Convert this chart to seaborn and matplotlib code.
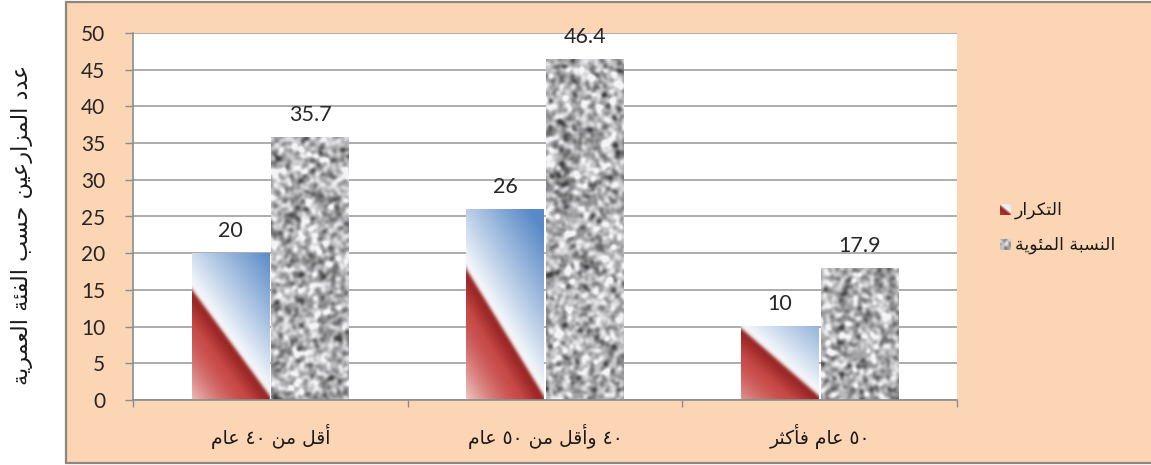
import re
import numpy as np
import pandas as pd
import matplotlib
matplotlib.use("Agg")
import matplotlib.pyplot as plt
from matplotlib.patches import Rectangle
import seaborn as sns

# ---- data -------------------------------------------------------------
categories = ["أقل من ٤٠ عام", "٤٠ وأقل من ٥٠ عام", "٥٠ عام فأكثر"]
series_names = ["التكرار", "النسبة المئوية"]
frequency = [20, 26, 10]
percentage = [35.7, 46.4, 17.9]
y_ticks = [0, 5, 10, 15, 20, 25, 30, 35, 40, 45, 50]
y_title = "عدد المزارعين حسب الفئة العمرية"

# ---- minimal Arabic shaping (presentation forms + visual order) -------
_FORM_TABLE = [
    ("\u0621", 0xFE80, 1), ("\u0622", 0xFE81, 2), ("\u0623", 0xFE83, 2),
    ("\u0624", 0xFE85, 2), ("\u0625", 0xFE87, 2), ("\u0626", 0xFE89, 4),
    ("\u0627", 0xFE8D, 2), ("\u0628", 0xFE8F, 4), ("\u0629", 0xFE93, 2),
    ("\u062A", 0xFE95, 4), ("\u062B", 0xFE99, 4), ("\u062C", 0xFE9D, 4),
    ("\u062D", 0xFEA1, 4), ("\u062E", 0xFEA5, 4), ("\u062F", 0xFEA9, 2),
    ("\u0630", 0xFEAB, 2), ("\u0631", 0xFEAD, 2), ("\u0632", 0xFEAF, 2),
    ("\u0633", 0xFEB1, 4), ("\u0634", 0xFEB5, 4), ("\u0635", 0xFEB9, 4),
    ("\u0636", 0xFEBD, 4), ("\u0637", 0xFEC1, 4), ("\u0638", 0xFEC5, 4),
    ("\u0639", 0xFEC9, 4), ("\u063A", 0xFECD, 4), ("\u0641", 0xFED1, 4),
    ("\u0642", 0xFED5, 4), ("\u0643", 0xFED9, 4), ("\u0644", 0xFEDD, 4),
    ("\u0645", 0xFEE1, 4), ("\u0646", 0xFEE5, 4), ("\u0647", 0xFEE9, 4),
    ("\u0648", 0xFEED, 2), ("\u0649", 0xFEEF, 2), ("\u064A", 0xFEF1, 4),
]
FORMS = {c: tuple(chr(start + k) for k in range(n)) for c, start, n in _FORM_TABLE}
LAM_ALEF = {"\u0627": ("\uFEFB", "\uFEFC"), "\u0623": ("\uFEF7", "\uFEF8"),
            "\u0625": ("\uFEF9", "\uFEFA"), "\u0622": ("\uFEF5", "\uFEF6")}


def _dual(c):
    return c in FORMS and len(FORMS[c]) == 4


def shape_arabic(text):
    chars = list(text)
    out = []
    i = 0
    while i < len(chars):
        c = chars[i]
        prev = chars[i - 1] if i > 0 else None
        nxt = chars[i + 1] if i + 1 < len(chars) else None
        if c not in FORMS:
            out.append(c)
            i += 1
            continue
        joins_prev = _dual(prev) if prev else False
        if c == "\u0644" and nxt in LAM_ALEF:
            out.append(LAM_ALEF[nxt][1 if joins_prev else 0])
            i += 2
            continue
        joins_next = _dual(c) and nxt in FORMS
        forms = FORMS[c]
        if len(forms) == 1:
            f = forms[0]
        elif len(forms) == 2:
            f = forms[1] if joins_prev else forms[0]
        else:
            if joins_prev and joins_next:
                f = forms[3]
            elif joins_prev:
                f = forms[1]
            elif joins_next:
                f = forms[2]
            else:
                f = forms[0]
        out.append(f)
        i += 1
    shaped = "".join(out)
    tokens = re.findall(r"[0-9\u0660-\u0669.]+|.", shaped)
    return "".join(reversed(tokens))


# ---- bar fills --------------------------------------------------------
def _blur(a, sigma):
    fy = np.fft.fftfreq(a.shape[0])[:, None]
    fx = np.fft.fftfreq(a.shape[1])[None, :]
    g = np.exp(-2 * (np.pi * sigma) ** 2 * (fx ** 2 + fy ** 2))
    return np.real(np.fft.ifft2(np.fft.fft2(a) * g))


def diagonal_fill(wp, hp):
    """Red / white / blue diagonal gradient, row 0 at the top."""
    xs = np.arange(wp) + 0.5
    ys = (np.arange(hp) + 0.5)[::-1]
    X, Y = np.meshgrid(xs, ys)
    hl = min(40 + 0.48 * hp, hp - 2)
    hr = min(4.0, 0.08 * hp)
    slope = (hr - hl) / wp
    s = (Y - (hl + slope * X)) / np.sqrt(1 + slope ** 2)

    white = np.array([1.0, 1.0, 1.0])
    blue = np.array([0.35, 0.54, 0.78])
    tb = np.clip(s / 85.0, 0, 1)[..., None] ** 0.9
    col_b = white + (blue - white) * tb

    dark = np.array([0.56, 0.11, 0.11])
    red = np.array([0.78, 0.29, 0.28])
    pink = np.array([0.94, 0.78, 0.77])
    tr = np.clip(-s / 68.0, 0, 1)[..., None]
    col_r = np.where(tr < 0.3,
                     dark + (red - dark) * (tr / 0.3),
                     red + (pink - red) * ((tr - 0.3) / 0.7) ** 1.4)

    a = 1 / (1 + np.exp(-s / 1.0))
    return np.clip(col_b * a[..., None] + col_r * (1 - a[..., None]), 0, 1)


def granite_fill(wp, hp, rng):
    pad = 16
    n = rng.standard_normal((hp + 2 * pad, wp + 2 * pad))
    z = _blur(n, 2.0) + 0.5 * _blur(rng.standard_normal(n.shape), 4.5)
    z = (z - z.mean()) / z.std()
    z = z[pad:pad + hp, pad:pad + wp]
    v = np.clip(0.71 + 0.14 * z, 0.28, 0.97)
    return np.dstack([v * 0.99, v * 0.99, v])


# ---- figure -----------------------------------------------------------
sns.set_style("white")
plt.rcParams["font.family"] = ["Lato", "DejaVu Sans"]

W, H = 1151, 465
fig = plt.figure(figsize=(W / 100, H / 100), dpi=100)
fig.patch.set_facecolor("white")

# peach chart panel
fig.add_artist(Rectangle((66 / W, 2 / H), 1.2, 461 / H, transform=fig.transFigure,
                         facecolor="#FCD5B5", edgecolor="#8E8680", linewidth=1.6,
                         zorder=-5))

ax_l, ax_b, ax_w, ax_h = 133, 65, 824, 367
ax = fig.add_axes([ax_l / W, ax_b / H, ax_w / W, ax_h / H])
ax.set_facecolor("white")

df = pd.DataFrame({
    "category": categories * 2,
    "series": [series_names[0]] * 3 + [series_names[1]] * 3,
    "value": frequency + percentage,
})

sns.barplot(data=df, x="category", y="value", hue="series", order=categories,
            hue_order=series_names, width=0.58, gap=0.025, saturation=1,
            palette=["#C0504D", "#A6A6A6"], legend=False, ax=ax)

x_lo, x_hi, y_lo, y_hi = -0.5, 2.5, 0, 50
px_per_x = ax_w / (x_hi - x_lo)
px_per_y = ax_h / (y_hi - y_lo)

rng = np.random.default_rng(11)
for k, cont in enumerate(ax.containers):
    for bar in cont:
        x0, w, h = bar.get_x(), bar.get_width(), bar.get_height()
        wp = max(int(round(w * px_per_x)), 2)
        hp = max(int(round(h * px_per_y)), 2)
        img = diagonal_fill(wp, hp) if k == 0 else granite_fill(wp, hp, rng)
        ax.imshow(img, extent=(x0, x0 + w, 0, h), aspect="auto", zorder=2,
                  interpolation="bilinear")
        bar.set_facecolor("none")
        bar.set_edgecolor("none")
    ax.bar_label(cont, fmt="{:g}", padding=9, fontsize=15.5, color="#262626",
                 family="Lato")

ax.set_xlim(x_lo, x_hi)
ax.set_ylim(y_lo, y_hi)

# grid and spines
ax.set_axisbelow(True)
ax.yaxis.grid(True, color="#A6A6A6", linewidth=1.3)
ax.xaxis.grid(False)
for side in ("top", "right"):
    ax.spines[side].set_visible(False)
for side in ("left", "bottom"):
    ax.spines[side].set_color("#8C8C8C")
    ax.spines[side].set_linewidth(1.2)

# ticks
ax.set_yticks(y_ticks)
ax.set_yticklabels([str(t) for t in y_ticks])
ax.tick_params(axis="y", length=6, width=1, color="#8C8C8C", pad=14,
               labelsize=15, labelcolor="#262626", left=True)
ax.set_xticks(range(len(categories)))
ax.set_xticklabels([shape_arabic(c) for c in categories], family="DejaVu Sans",
                   fontsize=13.5, color="#1a1a1a")
ax.tick_params(axis="x", which="major", length=0, pad=17)
ax.set_xticks([x_lo + i for i in range(len(categories) + 1)], minor=True)
ax.tick_params(axis="x", which="minor", length=5, width=1, color="#8C8C8C",
               bottom=True)
ax.set_xlabel("")
ax.set_ylabel("")

# vertical axis title
fig.text(22 / W, 1 - 225 / H, shape_arabic(y_title), rotation=90, ha="center",
         va="center", fontsize=16, family="DejaVu Sans", color="#1a1a1a")

# legend
legend_rows = [210, 245]
rng_leg = np.random.default_rng(3)
for k, (name, yc) in enumerate(zip(series_names, legend_rows)):
    mk = fig.add_axes([1000 / W, 1 - (yc + 5.5) / H, 11 / W, 11 / H])
    tile = diagonal_fill(22, 22) if k == 0 else granite_fill(22, 22, rng_leg)
    mk.imshow(tile, aspect="auto", interpolation="bilinear")
    mk.set_axis_off()
    fig.text(1015 / W, 1 - yc / H, shape_arabic(name), ha="left", va="center",
             fontsize=12.5, family="DejaVu Sans", color="#1a1a1a")

fig.savefig("out.png", dpi=100, facecolor="white")
